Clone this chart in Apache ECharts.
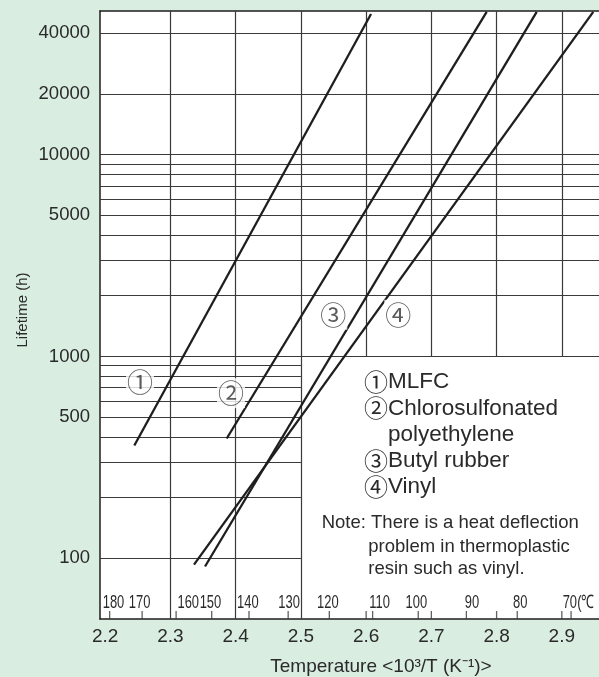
<!DOCTYPE html>
<html><head><meta charset="utf-8">
<script src="https://cdn.jsdelivr.net/npm/echarts@6/dist/echarts.min.js"></script>
<style>html,body{margin:0;padding:0;background:#d9ede1;}#c{width:599px;height:677px;}</style>
</head><body><div id="c"></div>
<script>
// ---- data ----
const mlfcX = [2.2446, 2.6075];  const mlfcY = [362, 49800];
const cspeX = [2.3862, 2.7848];  const cspeY = [392, 51000];
const butylX = [2.3530, 2.8615]; const butylY = [91, 51000];
const vinylX = [2.3361, 2.9482]; const vinylY = [93, 51000];

const yTickLabels = [100, 500, 1000, 5000, 10000, 20000, 40000];
const xTickLabels = [2.2, 2.3, 2.4, 2.5, 2.6, 2.7, 2.8, 2.9];
const hGridUpper = [1000, 2000, 3000, 4000, 5000, 6000, 7000, 8000, 9000, 10000, 20000, 40000];
const hGridLower = [100, 200, 300, 400, 500, 600, 700, 800, 900];
const vGridFull = [2.3, 2.4, 2.5];
const vGridUpper = [2.6, 2.7, 2.8, 2.9];
const celsiusTicks = [180, 170, 160, 150, 140, 130, 120, 110, 100, 90, 80, 70];
const celsiusLabelX = [2.2127, 2.2528, 2.3273, 2.3613, 2.4187, 2.4820, 2.5413, 2.6207, 2.6769, 2.7622, 2.8362, 2.9123];
const celsiusUnitX = 2.9235;
const markerLabels = ['①', '②', '③', '④'];
const markerX = [2.2533, 2.3928, 2.5497, 2.6493];
const markerY = [743, 658, 1609, 1609];
const legendItems = ['①', 'MLFC', '②', 'Chlorosulfonated', 'polyethylene', '③', 'Butyl rubber', '④', 'Vinyl'];
const noteLines = ['Note: There is a heat deflection', 'problem in thermoplastic', 'resin such as vinyl.'];

// ---- chart ----
const XMIN = 2.192, XMAX = 2.957, YMIN = 50, YMAX = 51500;
const FONT = 'Liberation Sans, Arial, Helvetica, sans-serif';
const CJK = '"Noto Sans CJK JP", "Noto Sans CJK SC", sans-serif';
const LINE = '#1e1e1e', GRID = '#3a3a3a', TXT = '#2a2a2a';

const gridLines = [];
hGridUpper.forEach(v => gridLines.push([{coord: [XMIN, v]}, {coord: [XMAX, v]}]));
hGridLower.forEach(v => gridLines.push([{coord: [XMIN, v]}, {coord: [2.5, v]}]));
vGridFull.forEach(v => gridLines.push([{coord: [v, YMIN]}, {coord: [v, YMAX]}]));
vGridUpper.forEach(v => gridLines.push([{coord: [v, 1000]}, {coord: [v, YMAX]}]));

const tickPoints = celsiusTicks.map(c => [1000 / (c + 273.15), YMIN]).concat(vGridUpper.map(v => [v, YMIN]));

function pair(xs, ys) { return xs.map((x, i) => [x, ys[i]]); }
function dataLine(name, xs, ys) {
  return {name, type: 'line', data: pair(xs, ys), symbol: 'none', z: 5,
    lineStyle: {color: LINE, width: 2.3}, clip: false};
}

const chart = echarts.init(document.getElementById('c'), null, {renderer: 'canvas'});
const option = {
  animation: false,
  backgroundColor: '#d9ede1',
  grid: {left: 100, right: 0, top: 11, bottom: 58, show: true, backgroundColor: '#ffffff', borderWidth: 0},
  xAxis: [{
    type: 'value', min: XMIN, max: XMAX, position: 'bottom',
    axisLine: {show: true, onZero: false, lineStyle: {color: LINE, width: 1.5}},
    axisTick: {show: false}, splitLine: {show: false},
    axisLabel: {customValues: xTickLabels, formatter: v => Number(v).toFixed(1), fontSize: 19, color: TXT, margin: 8, fontFamily: FONT}
  }, {
    type: 'value', min: XMIN, max: XMAX, position: 'top',
    axisLine: {show: true, onZero: false, lineStyle: {color: LINE, width: 1.5}},
    axisTick: {show: false}, splitLine: {show: false}, axisLabel: {show: false}
  }],
  yAxis: {
    type: 'log', logBase: 10, min: YMIN, max: YMAX,
    axisLine: {show: true, lineStyle: {color: LINE, width: 1.5}},
    axisTick: {show: false}, splitLine: {show: false},
    axisLabel: {customValues: yTickLabels, formatter: v => String(Math.round(v)), fontSize: 18.5, color: TXT, margin: 10, fontFamily: FONT}
  },
  series: [
    {type: 'line', data: [], silent: true, z: 1,
      markLine: {silent: true, symbol: ['none', 'none'], label: {show: false},
        lineStyle: {color: GRID, width: 1.2, type: 'solid'}, data: gridLines}},
    {type: 'scatter', data: tickPoints, symbol: 'rect', symbolSize: [1.3, 8], symbolOffset: [0, -4],
      itemStyle: {color: GRID}, silent: true, z: 2},
    dataLine('MLFC', mlfcX, mlfcY),
    dataLine('Chlorosulfonated polyethylene', cspeX, cspeY),
    dataLine('Butyl rubber', butylX, butylY),
    dataLine('Vinyl', vinylX, vinylY),
    {type: 'scatter', data: markerX.map((x, i) => [x, markerY[i], markerLabels[i]]), symbolSize: 0, silent: true, z: 6,
      label: {show: true, position: 'inside', formatter: p => p.data[2], fontSize: 26, fontFamily: CJK,
        color: '#333', backgroundColor: '#fff', padding: [1, 1, 1, 1], lineHeight: 28}}
  ]
};
chart.setOption(option);

// temperature (°C) labels along the bottom, placed through the axis scales
const px = x => chart.convertToPixel({xAxisIndex: 0}, x);
const py = y => chart.convertToPixel({yAxisIndex: 0}, y);
const yBottom = py(YMIN);
const graphics = [];
celsiusLabelX.forEach((x, i) => {
  graphics.push({type: 'text', x: px(x), y: yBottom - 15.7, scaleX: 0.7, z: 10,
    style: {text: String(celsiusTicks[i]), font: '18.5px ' + FONT, fill: TXT, textAlign: 'center', textVerticalAlign: 'middle'}});
});
graphics.push({type: 'text', x: px(celsiusUnitX), y: yBottom - 15.7, scaleX: 0.7, z: 10,
  style: {text: '(℃', font: '18.5px ' + FONT, fill: TXT, textAlign: 'left', textVerticalAlign: 'middle'}});
graphics.push(
  {type: 'text', x: 23, y: 310, rotation: Math.PI / 2, z: 10,
    style: {text: 'Lifetime (h)', font: '15px ' + FONT, fill: TXT, textAlign: 'center', textVerticalAlign: 'middle'}},
  {type: 'text', x: 381, y: 666.5, z: 10,
    style: {text: 'Temperature <10³/T (K⁻¹)>', font: '19px ' + FONT, fill: TXT, textAlign: 'center', textVerticalAlign: 'middle'}}
);
// legend
const legendRows = [[legendItems[0], legendItems[1]], [legendItems[2], legendItems[3]], [null, legendItems[4]], [legendItems[5], legendItems[6]], [legendItems[7], legendItems[8]]];
legendRows.forEach((r, i) => {
  const y = 382 + i * 26.3;
  if (r[0]) graphics.push({type: 'text', x: 364, y: y, z: 10, style: {text: r[0], font: '24px ' + CJK, fill: TXT, textVerticalAlign: 'middle'}});
  graphics.push({type: 'text', x: 388, y: y, z: 10, style: {text: r[1], font: '22.5px ' + FONT, fill: TXT, textVerticalAlign: 'middle'}});
});
// note
graphics.push(
  {type: 'text', x: 321.7, y: 523, z: 10, style: {text: noteLines[0], font: '18.5px ' + FONT, fill: TXT, textVerticalAlign: 'middle'}},
  {type: 'text', x: 368.3, y: 546.5, z: 10, style: {text: noteLines[1], font: '18.5px ' + FONT, fill: TXT, textVerticalAlign: 'middle'}},
  {type: 'text', x: 368.3, y: 568.5, z: 10, style: {text: noteLines[2], font: '18.5px ' + FONT, fill: TXT, textVerticalAlign: 'middle'}}
);
chart.setOption({graphic: graphics});
</script></body></html>
